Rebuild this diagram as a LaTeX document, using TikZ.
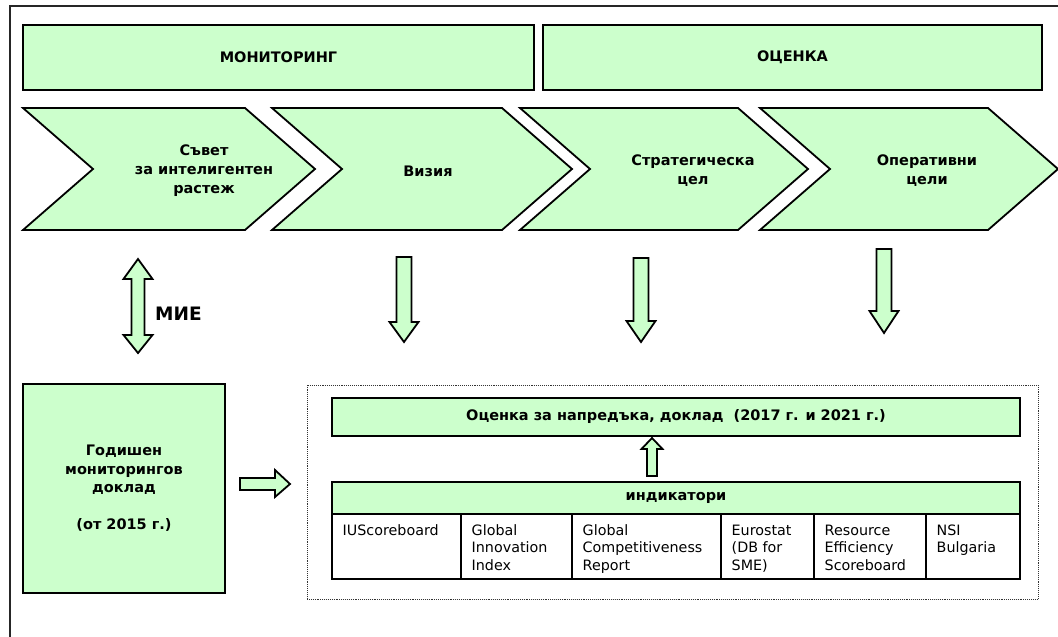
\documentclass[tikz,border=0pt]{standalone}
\usepackage{fontspec}
\setmainfont{DejaVu Sans}
\usepackage{tikz}
\definecolor{mint}{HTML}{CCFFCC}

\begin{document}
\begin{tikzpicture}[x=1pt,y=-1pt,
	box/.style={draw=black,line width=1.8pt,fill=mint},
	boxnode/.style={box,inner sep=0pt,align=center,font=\fontsize{14.5}{18.5}\selectfont\bfseries},
	bold/.style={inner sep=0pt,align=center,font=\fontsize{14.5}{19}\selectfont\bfseries},
	celltext/.style={inner sep=0pt,align=left,anchor=north west,font=\fontsize{14.3}{17.5}\selectfont}]
			\useasboundingbox (0,0) rectangle (1058,637);
			\draw[line width=1.8pt,black!85] (1062,6) -- (10,6) -- (10,641);
			
			\node[boxnode,minimum width=511,minimum height=65] (mon) at (278.5,57.5) {МОНИТОРИНГ};
			\node[boxnode,minimum width=499,minimum height=65] (eval) at (792.5,57.5) {ОЦЕНКА};
			
			\foreach \l/\r/\tx/\nm/\txt in {23/245/204/council/{Съвет\\за интелигентен\\растеж}, 272/502/428/vision/{Визия}, 520/738/693/strat/{Стратегическа\\цел}, 760/988/927/oper/{Оперативни\\цели}}
			{
			\draw[box] (\l,108) -- (\r,108) -- (\r+70,169) -- (\r,230) -- (\l,230) -- (\l+70,169) -- cycle;
			\node[bold] (\nm) at (\tx,171) {\txt};
			}
			
			\foreach \x/\t/\h/\b in {404/257/322/342, 641/258/321/342, 884/249/311/333}
			\draw[box] (\x-7.5,\t) -- (\x+7.5,\t) -- (\x+7.5,\h) -- (\x+14.5,\h) -- (\x,\b) -- (\x-14.5,\h) -- (\x-7.5,\h) -- cycle;
			
			\draw[box] (138,259) -- (152.5,279) -- (144.5,279) -- (144.5,335) -- (152.5,335) -- (138,353) -- (123.5,335) -- (131.5,335) -- (131.5,279) -- (123.5,279) -- cycle;
			\node[anchor=west,inner sep=0pt,font=\fontsize{18.5}{22}\selectfont\bfseries] (mie) at (155,314) {МИЕ};
			
			\node[boxnode,minimum width=202,minimum height=209] (report) at (124,488.5) {Годишен\\мониторингов\\доклад\\ \\(от 2015 г.)};
			\draw[box] (240,478) -- (275,478) -- (275,470) -- (290,484) -- (275,497) -- (275,490) -- (240,490) -- cycle;
			
			\node[draw=black!80,densely dotted,line width=0.9pt,minimum width=731,minimum height=214,inner sep=0pt] (evalframe) at (672.5,492) {};
			\node[boxnode,minimum width=688,minimum height=38] (progress) at (676,417) {Оценка за напредъка, доклад\ \ (2017 г. и 2021 г.)};
			\node[boxnode,minimum width=688,minimum height=32] (ind) at (676,498) {индикатори};
			\draw[box] (647,476) -- (647,449) -- (641.5,449) -- (652,438) -- (662.5,449) -- (657,449) -- (657,476) -- cycle;
			
			\foreach \xa/\xb/\nm/\txt in {332/461/ius/{IUScoreboard}, 461/572/gii/{Global\\Innovation\\Index}, 572/721/gcr/{Global\\Competitiveness\\Report}, 721/814/estat/{Eurostat\\(DB for\\SME)}, 814/926/res/{Resource\\Efficiency\\Scoreboard}, 926/1020/nsi/{NSI\\Bulgaria}}
			{
			\draw[line width=1.8pt,fill=white] (\xa,514) rectangle (\xb,579);
			\node[celltext] (\nm) at (\xa+10.5,523) {\strut\txt};
			}
\end{tikzpicture}
\end{document}
